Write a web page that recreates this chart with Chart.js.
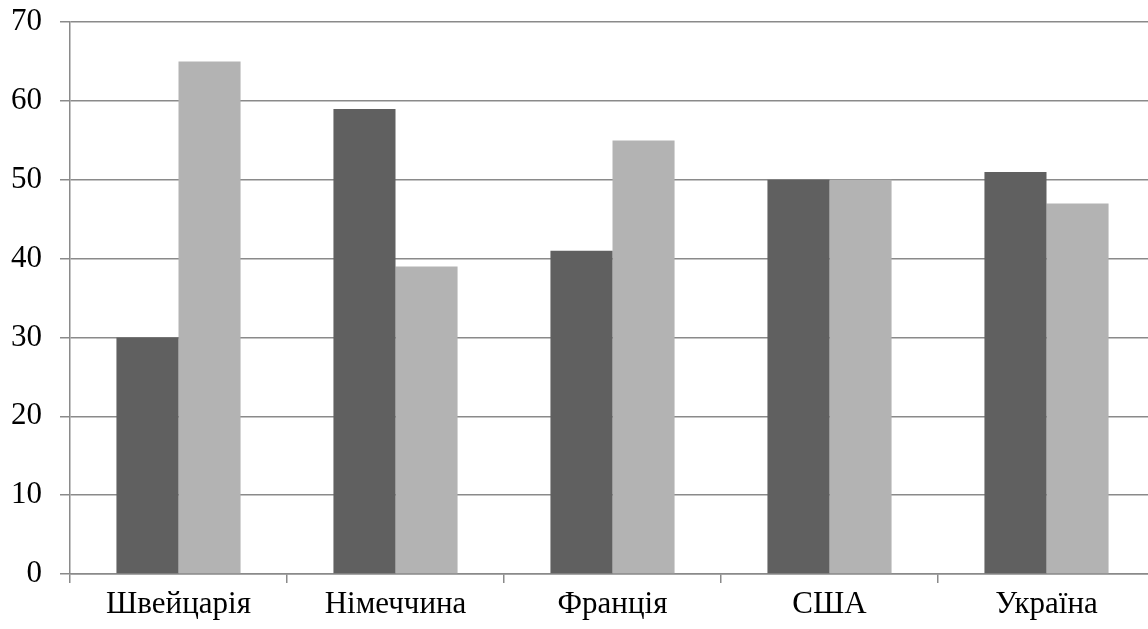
<!DOCTYPE html>
<html>
<head>
<meta charset="utf-8">
<script src="https://cdn.jsdelivr.net/npm/chart.js@4/dist/chart.umd.min.js"></script>
<style>
  html, body { margin: 0; padding: 0; background: #fff; overflow: hidden; }
  #wrap { width: 1155px; height: 629px; }
</style>
</head>
<body>
<div id="wrap"><canvas id="chart"></canvas></div>
<script>
// data
const countries = ['Швейцарія', 'Німеччина', 'Франція', 'США', 'Україна'];
const seriesDark = [30, 59, 41, 50, 51];
const seriesLight = [65, 39, 55, 50, 47];

const gridColor = '#8a8a8a';
const serif = "'Liberation Serif', 'Times New Roman', serif";

new Chart(document.getElementById('chart'), {
    type: 'bar',
    data: {
        labels: countries,
        datasets: [
            { data: seriesDark, backgroundColor: '#606060', borderWidth: 0 },
            { data: seriesLight, backgroundColor: '#b3b3b3', borderWidth: 0 }
        ]
    },
    options: {
        responsive: true,
        maintainAspectRatio: false,
        animation: false,
        layout: { padding: { top: 0, left: 0, right: 0, bottom: 0 } },
        plugins: { legend: { display: false }, tooltip: { enabled: false } },
        datasets: { bar: { categoryPercentage: 0.572, barPercentage: 1 } },
        scales: {
            x: {
                grid: { display: true, drawOnChartArea: false, offset: true, color: gridColor, lineWidth: 1.5, tickLength: 9 },
                border: { display: true, color: gridColor, width: 1.5 },
                ticks: { color: '#000', font: { family: serif, size: 31 }, padding: 3 },
                afterFit: (s) => { s.height = 55; }
            },
            y: {
                min: 0,
                max: 70,
                ticks: { stepSize: 10, color: '#000', font: { family: serif, size: 31, lineHeight: 0.27 }, padding: 18 },
                grid: { color: gridColor, lineWidth: 1.5, tickLength: 10 },
                border: { display: true, color: gridColor, width: 1.5 },
                afterFit: (s) => { s.width = 70; }
            }
        }
    }
});
</script>
</body>
</html>
